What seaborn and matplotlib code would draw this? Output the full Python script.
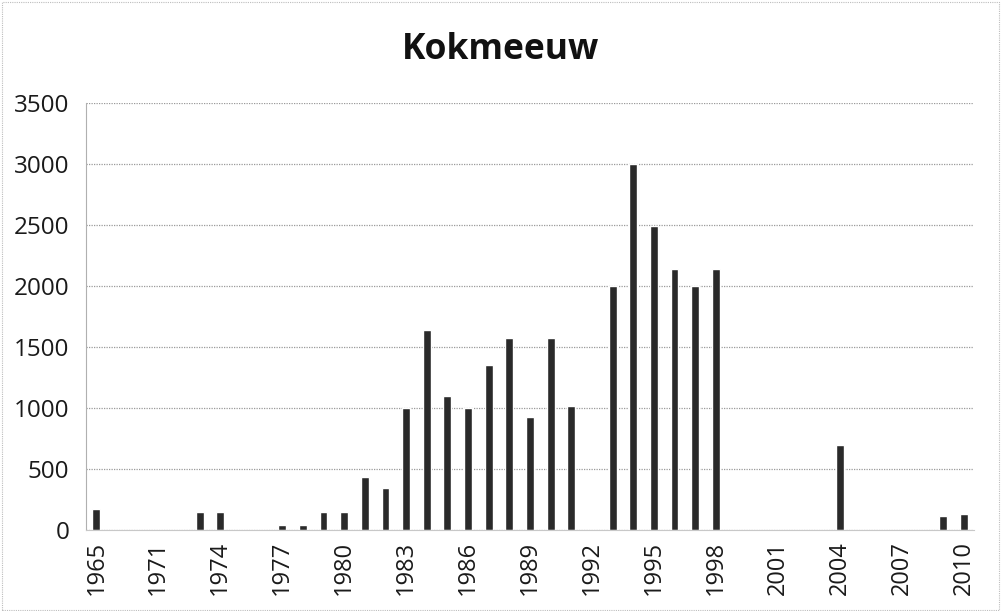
import matplotlib
matplotlib.use("Agg")
import matplotlib.pyplot as plt
import seaborn as sns
import pandas as pd
from matplotlib.patches import Rectangle

years = ["1965", "1968", "1970"] + [str(y) for y in range(1971, 2011)]
values = [170, 0, 0,
          0, 0, 150, 150, 0, 0, 41, 41, 150, 150,      # 1971-1980
          437, 347, 1000, 1640, 1100, 1000, 1350, 1575, 927, 1575,  # 1981-1990
          1017, 0, 2000, 3000, 2490, 2140, 2000, 2140, 0, 0,  # 1991-2000
          0, 0, 0, 695, 0, 0, 0, 0, 115, 128]  # 2001-2010
shown_labels = ["1965", "1971", "1974", "1977", "1980", "1983", "1986", "1989",
                "1992", "1995", "1998", "2001", "2004", "2007", "2010"]
title = "Kokmeeuw"
yticks = [0, 500, 1000, 1500, 2000, 2500, 3000, 3500]

df = pd.DataFrame({"year": years, "value": values})

sns.set_theme(style="white")
plt.rcParams["font.family"] = ["Open Sans", "DejaVu Sans"]

fig = plt.figure(figsize=(10.01, 6.11), dpi=100)
ax = fig.add_axes([86/1001, 1 - 530/611, (974-86)/1001, (530-103)/611])

sns.barplot(data=df, x="year", y="value", order=years, color="#2a2a2a",
            saturation=1, width=0.38, ax=ax)

ax.set_ylim(0, 3500)
ax.set_yticks(yticks)
ax.set_yticklabels([str(v) for v in yticks], fontsize=17.5, color="#1a1a1a")
ax.set_xlim(-0.5, len(years) - 0.5)
pos = [years.index(l) for l in shown_labels]
ax.set_xticks(pos)
ax.set_xticklabels(shown_labels, rotation=90, fontsize=17, color="#1a1a1a")
ax.tick_params(axis="y", length=0, pad=12)
ax.tick_params(axis="x", length=0, pad=8)
ax.set_xlabel("")
ax.set_ylabel("")
ax.grid(axis="y", color="#9a9a9a", linestyle=(0, (1, 1)), linewidth=0.9)
ax.set_axisbelow(True)
for s in ["top", "right"]:
    ax.spines[s].set_visible(False)
ax.spines["left"].set_color("#b0b0b0")
ax.spines["left"].set_linestyle((0, (1, 1)))
ax.spines["left"].set_linewidth(0.8)
ax.spines["bottom"].set_color("#c8c8c8")
ax.spines["bottom"].set_linewidth(0.8)

fig.text(0.5, 1 - 50/611, title, ha="center", va="center", fontsize=25.5,
         fontweight="bold", color="#111111")

fig.patches.append(Rectangle((0.002, 0.002), 0.996, 0.994, transform=fig.transFigure,
                             fill=False, edgecolor="#bdbdbd", linestyle=(0, (1, 1)),
                             linewidth=0.8))

fig.savefig("out.png", dpi=100)
